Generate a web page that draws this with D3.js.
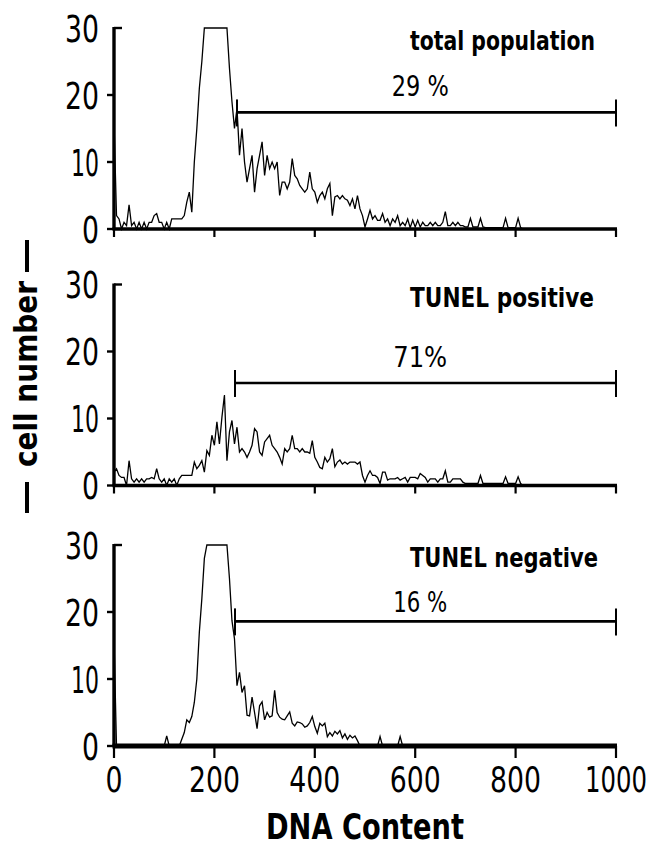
<!DOCTYPE html>
<html>
<head>
<meta charset="utf-8">
<script src="https://cdn.jsdelivr.net/npm/d3@7"></script>
<style>
    body { margin: 0; background: #fff; }
    text { font-family: 'Liberation Sans Narrow', 'DejaVu Sans Condensed', 'Liberation Sans', sans-serif; fill: #000; }
</style>
</head>
<body>
<div id="chart"></div>
<script>
// DNA content channels, one reading every 5 units
var dnaChannels = d3.range(0, 825, 5);

var totalCounts = [
    16, 2, 1.5, 0, 1, 0.5, 3.6, 0.5, 1, 0,
    1, 0, 1, 0, 1, 1, 2, 2.3, 1, 1,
    0, 1, 0, 1.5, 1.5, 1.5, 1.5, 1.5, 2, 4,
    5.5, 2.5, 10, 15, 21, 25, 30, 30, 30, 30,
    30, 30, 30, 30, 30, 30, 24, 19, 15, 18,
    11, 15, 10, 7, 9, 11, 5.5, 9, 11, 13,
    8, 11, 9, 10, 9, 10, 5, 7, 7, 6,
    7, 10.5, 8, 7.5, 6.5, 6, 5.5, 6, 8.5, 6,
    5.5, 4, 5, 5.5, 4.5, 6, 6.8, 2, 4.8, 5,
    4.5, 5, 4.5, 4.3, 3.5, 4.5, 3, 5, 3, 2,
    0.3, 1.5, 2.8, 1.5, 2, 1.3, 1.3, 2.3, 1, 1.5,
    0.5, 1.5, 1, 2, 0.5, 1, 0.5, 1.5, 0.2, 1.3,
    0.3, 1.3, 0.3, 1, 0.5, 0.5, 1, 0.5, 1, 0.5,
    0.5, 1, 2.6, 0.5, 0.5, 1, 0.5, 1, 0.5, 0.5,
    0.3, 0.3, 1.6, 0.3, 0.3, 0.3, 1.6, 0.3, 0.2, 0.2,
    0.2, 0.2, 0.2, 0.2, 0.2, 0.2, 1.6, 0.2, 0.2, 0.2,
    0.2, 1.6, 0.2, 0, 0
];

var positiveCounts = [
    2, 2.5, 1.5, 1.2, 1.2, 0, 3.7, 1, 0.5, 1,
    0.5, 1, 0.5, 1, 1, 1.2, 1, 2.5, 1, 0.5,
    1, 0, 1, 0.5, 1, 0, 1, 1.5, 1.5, 1.5,
    1.5, 1.5, 3.5, 2.5, 3, 3.7, 2, 5.2, 4.5, 7.5,
    6, 9.5, 6.2, 10.2, 13.5, 3.7, 8, 9.7, 6.2, 8.7,
    5, 5.5, 5, 4.2, 5, 6, 8.5, 8, 5, 4.5,
    6.5, 7, 7.5, 6, 5.5, 5, 4.2, 3.2, 5.5, 5,
    5.5, 7.5, 5.5, 5.5, 5, 5.5, 5, 5, 4.8, 6.7,
    4.2, 3.5, 2.7, 2.5, 4.2, 3.5, 4, 5.5, 2.8, 3.5,
    3.8, 3.2, 3.5, 3.2, 3.5, 3.5, 3.5, 3.2, 3.5, 1.5,
    0.5, 1.5, 2.2, 1.5, 1.5, 1.2, 0.3, 2, 2, 0.8,
    1, 1, 1, 1.2, 0.8, 1, 1.2, 0.5, 1.2, 1.2,
    1.2, 1, 1.8, 1.5, 1.2, 0.5, 1, 1, 1, 0.5,
    1, 1, 2.2, 0.5, 0.5, 1, 1, 1, 1, 0.5,
    0.3, 0.3, 0.3, 0.3, 0.3, 0.3, 1.5, 0.3, 0.3, 0.3,
    0.3, 0.3, 0.3, 0.3, 0.3, 0.3, 1.3, 0.3, 0.3, 0.3,
    0.3, 1.3, 0.3, 0, 0
];

var negativeCounts = [
    16, 0, 0, 0, 0, 0, 0, 0, 0, 0,
    0, 0, 0, 0, 0, 0, 0, 0, 0, 0,
    0, 1.5, 0, 0, 0, 0, 0, 1, 2, 3.9,
    3.5, 4.4, 6.5, 10, 17, 22, 28, 30, 30, 30,
    30, 30, 30, 30, 30, 30, 25, 18.7, 16, 9,
    11, 8, 9, 4.6, 4.5, 7.3, 5, 2.6, 6, 6.6,
    3.9, 5, 4.3, 4.5, 8.3, 5, 4.3, 4, 3.9, 4.5,
    5.1, 3.4, 3, 3.6, 3.5, 3.3, 2.8, 3, 3.5, 4.4,
    2.9, 1.9, 3.4, 3, 3.4, 1.4, 2, 1.5, 2.2, 1.8,
    2.3, 1.2, 1.8, 1, 1.6, 1.2, 1.5, 0.8, 0, 0,
    0, 0, 0, 0, 0, 0, 1.4, 0, 0, 0,
    0, 0, 0, 0, 1.4, 0, 0, 0, 0, 0
];

var panelTitles = ["total population", "TUNEL positive", "TUNEL negative"];
var gatePercents = ["29 %", "71%", "16 %"];
var gateStarts = [245, 241, 241];
var gateEnd = 1000;
var gateLevels = [17.4, 15.3, 18.6];
var gateLabelAt = 610;
var xTicks = [0, 200, 400, 600, 800, 1000];
var yTicks = [0, 10, 20, 30];

const w = 651;
const h = 846;
const left = 114;
const right = 616;
const panelHeight = 201;
const panelBottoms = [229, 485.5, 746];
const labelGaps = [16, 16, 9];
const titleWidths = [185, 184, 188];
const percentWidths = [57, 54, 54];

var allCounts = [totalCounts, positiveCounts, negativeCounts];

// narrow lettering: fix widths so digits look like the original stencil font
function digitWidth(s) {
    return s.split('').reduce((a, c) => a + (c === '1' ? 11 : 17), 0);
}

const xScale = d3.scaleLinear().domain([0, 1000]).range([left, right]);

const svg = d3.select("#chart")
    .append("svg")
    .attr("width", w)
    .attr("height", h);

svg.append("rect").attr("width", w).attr("height", h).attr("fill", "#fff");

allCounts.forEach((counts, p) => {
    var bottom = panelBottoms[p];
    var last = p === 2;
    const yScale = d3.scaleLinear().domain([0, 30]).range([bottom, bottom - panelHeight]);
    var g = svg.append("g").attr("class", "panel");

    // histogram trace
    var line = d3.line()
        .x((d, i) => xScale(dnaChannels[i]))
        .y((d) => yScale(d));
    g.append("path")
        .datum(counts)
        .attr("d", line)
        .attr("fill", "none")
        .attr("stroke", "#000")
        .attr("stroke-width", 1.3)
        .attr("stroke-linejoin", "miter");

    // x axis
    g.append("line")
        .attr("x1", xScale(0) - 1.5).attr("x2", xScale(1000) + 1)
        .attr("y1", yScale(0)).attr("y2", yScale(0))
        .attr("stroke", "#000").attr("stroke-width", last ? 5 : 3.5);
    g.selectAll(".xtick")
        .data(xTicks)
        .enter()
        .append("line")
        .attr("class", "xtick")
        .attr("x1", (d) => xScale(d)).attr("x2", (d) => xScale(d))
        .attr("y1", yScale(0)).attr("y2", yScale(0) + (last ? 12 : 8))
        .attr("stroke", "#000").attr("stroke-width", 2.2);

    // y axis
    g.append("line")
        .attr("x1", xScale(0)).attr("x2", xScale(0))
        .attr("y1", yScale(0)).attr("y2", yScale(30) - 1)
        .attr("stroke", "#000").attr("stroke-width", 3.4);
    g.selectAll(".ytick")
        .data(yTicks)
        .enter()
        .append("line")
        .attr("class", "ytick")
        .attr("x1", (d) => d === 30 ? xScale(0) : xScale(0) - 7)
        .attr("x2", (d) => d === 30 ? xScale(0) + 8 : xScale(0))
        .attr("y1", (d) => yScale(d)).attr("y2", (d) => yScale(d))
        .attr("stroke", "#000").attr("stroke-width", 2.4);
    g.selectAll(".ylabel")
        .data(yTicks)
        .enter()
        .append("text")
        .attr("class", "ylabel")
        .attr("x", xScale(0) - 15)
        .attr("y", (d) => yScale(d) + 13.5)
        .attr("text-anchor", "end")
        .attr("textLength", (d) => digitWidth(String(d)))
        .attr("lengthAdjust", "spacingAndGlyphs")
        .style("font-size", "38px")
        .text((d) => d);

    // gate bar with end marks
    var gy = yScale(gateLevels[p]);
    g.append("line")
        .attr("x1", xScale(gateStarts[p])).attr("x2", xScale(gateEnd))
        .attr("y1", gy).attr("y2", gy)
        .attr("stroke", "#000").attr("stroke-width", 2.6);
    [gateStarts[p], gateEnd].forEach((v) => {
        g.append("line")
            .attr("x1", xScale(v)).attr("x2", xScale(v))
            .attr("y1", gy - 13).attr("y2", gy + 14)
            .attr("stroke", "#000").attr("stroke-width", 2);
    });
    g.append("text")
        .attr("x", xScale(gateLabelAt))
        .attr("y", gy - labelGaps[p])
        .attr("text-anchor", "middle")
        .attr("textLength", percentWidths[p])
        .attr("lengthAdjust", "spacingAndGlyphs")
        .style("font-size", "28px")
        .text(gatePercents[p]);

    // panel title
    g.append("text")
        .attr("x", 410)
        .attr("y", yScale(30) + 22)
        .attr("textLength", titleWidths[p])
        .attr("lengthAdjust", "spacingAndGlyphs")
        .style("font-size", "27px")
        .style("font-weight", "bold")
        .text(panelTitles[p]);

    if (last) {
        // squeeze each label with a scale so its box stays inside the page
        g.selectAll(".xlabel")
            .data(xTicks)
            .enter()
            .append("text")
            .attr("class", "xlabel")
            .attr("text-anchor", "middle")
            .style("font-size", "35px")
            .text((d) => d)
            .attr("transform", function (d) {
                var k = digitWidth(String(d)) / this.getComputedTextLength();
                return "translate(" + xScale(d) + ",792) scale(" + k + ",1)";
            });
    }
});

// axis titles
svg.append("text")
    .attr("x", (left + right) / 2)
    .attr("y", 839)
    .attr("text-anchor", "middle")
    .attr("textLength", 198)
    .attr("lengthAdjust", "spacingAndGlyphs")
    .style("font-size", "36px")
    .style("font-weight", "bold")
    .text("DNA Content");

svg.append("text")
    .attr("transform", "translate(37,374) rotate(-90)")
    .attr("text-anchor", "middle")
    .attr("textLength", 186)
    .attr("lengthAdjust", "spacingAndGlyphs")
    .style("font-size", "32px")
    .style("font-weight", "bold")
    .text("cell number");

// long dashes either side of the y title
[[240, 272], [482, 513]].forEach((s) => {
    svg.append("line")
        .attr("x1", 27).attr("x2", 27)
        .attr("y1", s[0]).attr("y2", s[1])
        .attr("stroke", "#000").attr("stroke-width", 4);
});
</script>
</body>
</html>
